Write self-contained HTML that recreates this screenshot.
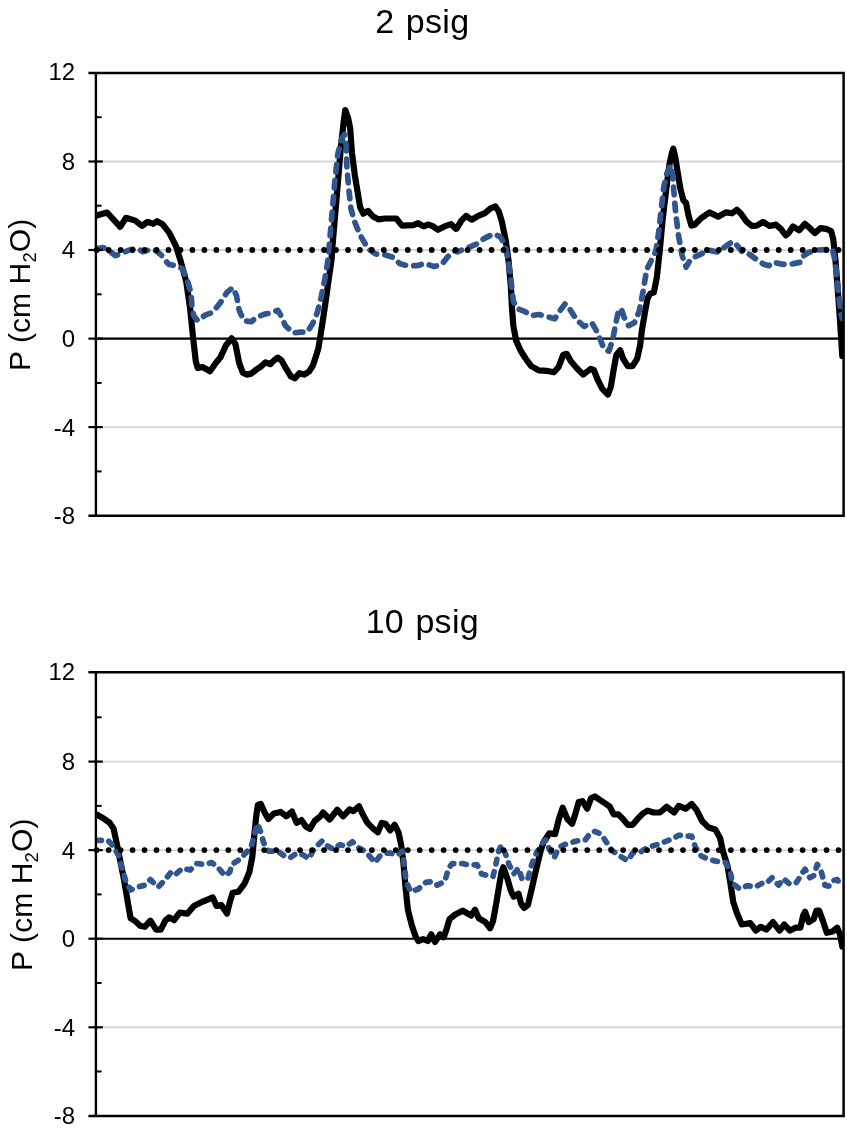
<!DOCTYPE html>
<html><head><meta charset="utf-8"><title>Pressure charts</title>
<style>
html,body{margin:0;padding:0;background:#fff;}
svg{display:block;font-family:"Liberation Sans",sans-serif;fill:#000;}
</style></head><body>
<svg width="847" height="1134" viewBox="0 0 847 1134">
<rect x="0" y="0" width="847" height="1134" fill="#fff"/>
<g>
<text x="422.3" y="33.0" font-size="34" letter-spacing="0.3" word-spacing="1.6" text-anchor="middle">2 psig</text>
<line x1="95.9" y1="161.5" x2="843.6" y2="161.5" stroke="#d6d6d6" stroke-width="1.9"/>
<line x1="95.9" y1="250.0" x2="843.6" y2="250.0" stroke="#d6d6d6" stroke-width="1.9"/>
<line x1="95.9" y1="427.1" x2="843.6" y2="427.1" stroke="#d6d6d6" stroke-width="1.9"/>
<line x1="95.9" y1="338.6" x2="843.6" y2="338.6" stroke="#000" stroke-width="2.1"/>
<clipPath id="clip72"><rect x="95.9" y="72.9" width="747.7" height="442.8"/></clipPath>
<g clip-path="url(#clip72)">
<polyline points="96.6,215.5 107.0,212.5 112.7,218.7 120.2,226.8 125.9,217.8 135.3,220.6 141.9,225.9 147.6,221.9 153.3,223.8 157.1,221.2 162.7,224.4 169.3,232.9 176.0,246.1 180.7,261.2 186.3,282.0 190.1,308.5 193.0,336.8 195.8,361.3 197.7,368.0 202.4,367.0 210.0,371.2 215.6,363.2 220.3,357.6 226.0,345.3 231.7,338.3 235.5,344.3 239.2,363.2 242.8,372.7 246.6,374.6 251.3,373.6 256.1,369.8 260.8,366.6 265.5,362.3 270.2,364.2 274.0,360.4 277.8,357.6 281.6,360.4 286.3,368.9 291.0,376.5 294.8,378.3 299.5,373.1 304.2,374.6 308.9,371.7 312.7,366.1 315.6,357.6 318.4,348.1 320.3,336.8 324.1,312.2 327.8,285.8 331.6,259.3 332.1,250.6 336.8,195.8 340.6,150.4 343.4,124.0 345.3,110.0 348.2,118.3 350.1,127.8 351.9,152.3 354.8,175.0 357.6,192.0 360.1,207.1 363.3,213.7 368.0,210.9 372.7,216.2 378.4,219.4 385.0,218.5 396.3,218.5 399.2,222.2 402.0,225.6 413.3,225.1 418.1,223.2 423.7,226.4 428.5,224.5 433.2,226.4 437.9,229.8 444.5,226.4 451.1,224.1 455.8,228.8 456.6,228.7 461.3,220.6 466.1,215.9 471.7,219.7 478.3,215.9 484.9,213.1 490.6,208.3 495.3,206.4 498.7,211.2 501.9,221.6 505.7,240.4 508.6,261.2 510.8,285.8 512.0,308.5 513.3,325.5 516.1,340.6 520.8,351.0 525.6,358.5 531.2,366.1 538.8,370.4 546.3,370.8 553.9,372.3 558.6,367.0 563.3,354.7 566.7,353.8 570.9,361.3 576.6,368.0 583.2,374.6 590.7,368.9 593.8,370.0 597.6,379.5 602.3,388.9 607.9,394.6 610.8,387.0 613.6,370.0 616.4,354.9 620.2,350.2 623.1,358.7 627.8,366.2 632.5,366.2 637.2,358.7 640.1,345.5 641.9,330.3 644.8,313.3 647.6,298.2 650.4,293.5 653.8,292.6 656.8,277.6 659.7,251.1 662.5,220.9 666.3,188.8 669.5,164.2 671.9,152.9 673.3,148.7 675.2,156.7 677.6,171.8 680.4,188.8 683.3,200.1 686.1,203.0 688.4,215.2 691.4,225.6 694.6,224.7 701.2,218.1 709.7,212.4 718.2,216.7 725.8,212.4 732.0,213.3 736.9,209.8 741.2,214.0 746.1,221.1 751.8,226.0 756.8,225.6 763.1,221.8 769.5,226.0 775.9,224.6 780.8,228.9 785.8,235.3 788.6,233.1 792.9,226.5 799.3,230.3 804.9,223.9 809.9,228.2 814.8,233.1 820.5,228.2 826.2,228.9 831.1,231.0 833.3,239.5 835.4,259.3 837.5,286.3 839.6,314.6 841.0,335.8 842.3,356.0" fill="none" stroke="#000" stroke-width="6.2" stroke-linejoin="round" stroke-linecap="round"/>
<polyline points="96.6,248.9 103.2,247.6 108.9,250.8 115.5,255.6 123.1,252.7 130.6,249.5 138.2,248.9 142.9,251.8 150.4,249.5 156.1,250.8 161.8,255.6 168.4,264.1 176.9,266.0 182.6,268.8 187.3,280.1 191.1,293.3 192.0,308.5 193.9,316.0 197.7,320.7 205.2,315.1 212.8,312.2 220.3,302.8 227.0,292.4 232.6,287.7 236.4,295.2 239.2,310.3 243.8,320.7 251.3,321.7 257.0,317.0 264.6,314.1 270.2,313.2 277.8,310.3 280.6,315.1 285.3,325.5 292.9,333.0 300.4,332.1 307.1,332.1 312.7,323.6 317.4,312.2 321.2,297.1 325.0,278.2 327.8,261.2 329.3,244.9 332.1,212.8 334.9,180.7 337.8,154.2 341.6,139.1 344.4,134.4 346.3,146.7 346.8,165.6 348.7,188.2 351.0,209.0 354.8,222.2 360.4,235.5 368.0,248.7 375.6,254.0 383.1,254.3 392.6,257.2 400.1,263.8 407.7,265.7 417.1,265.7 424.7,263.4 434.1,266.6 441.7,264.7 447.3,257.2 454.9,250.6 457.6,251.8 467.0,248.0 476.4,244.2 484.0,238.6 493.4,233.8 500.1,236.7 504.8,244.2 507.6,257.4 510.4,274.5 512.0,289.6 513.3,300.9 517.1,308.5 524.6,311.3 531.2,315.6 538.8,314.5 546.3,316.4 554.8,318.8 559.6,311.3 565.2,303.7 570.0,309.4 576.6,319.8 584.1,326.4 591.7,322.6 595.7,329.4 600.4,339.8 604.2,349.2 608.9,351.1 612.7,339.8 615.5,324.7 618.3,311.5 621.2,308.6 624.0,317.1 628.7,325.6 634.4,322.8 639.1,311.5 642.9,292.6 645.7,275.6 647.4,268.1 651.2,260.6 655.9,251.1 658.7,232.2 661.2,209.6 663.8,186.9 666.8,173.7 670.6,165.2 672.9,175.6 673.8,190.7 675.7,213.3 678.6,236.0 682.0,254.9 686.1,267.2 690.8,258.7 699.3,254.9 708.8,250.2 718.2,252.1 726.7,245.5 732.7,241.6 737.6,245.9 742.6,252.3 749.7,254.4 755.3,258.6 763.8,264.3 768.8,265.7 773.0,262.2 780.8,263.9 787.9,265.0 793.6,263.6 800.7,262.2 802.8,256.5 807.8,253.0 814.8,250.1 826.2,249.7 832.5,249.4 834.7,259.3 836.8,276.3 838.9,297.6 841.0,314.6 842.5,318.8" fill="none" stroke="#30558f" stroke-width="5.7" stroke-linejoin="round" stroke-linecap="round" stroke-dasharray="7.7 8.3"/>
</g>
<line x1="96.7" y1="250.0" x2="841" y2="250.0" stroke="#000" stroke-width="5.8" stroke-linecap="round" stroke-dasharray="0 11.965"/>
<path d="M88.4 72.9 H843.6 V515.7 H88.4" fill="none" stroke="#000" stroke-width="2.5" stroke-linejoin="miter"/>
<line x1="95.9" y1="72.9" x2="95.9" y2="515.7" stroke="#000" stroke-width="2.4"/>
<line x1="88.4" y1="161.5" x2="102.8" y2="161.5" stroke="#000" stroke-width="2.2"/>
<line x1="88.4" y1="250.0" x2="102.8" y2="250.0" stroke="#000" stroke-width="2.2"/>
<line x1="88.4" y1="338.6" x2="102.8" y2="338.6" stroke="#000" stroke-width="2.2"/>
<line x1="88.4" y1="427.1" x2="102.8" y2="427.1" stroke="#000" stroke-width="2.2"/>
<line x1="95.9" y1="117.2" x2="101.6" y2="117.2" stroke="#000" stroke-width="2"/>
<line x1="95.9" y1="205.7" x2="101.6" y2="205.7" stroke="#000" stroke-width="2"/>
<line x1="95.9" y1="294.3" x2="101.6" y2="294.3" stroke="#000" stroke-width="2"/>
<line x1="95.9" y1="382.9" x2="101.6" y2="382.9" stroke="#000" stroke-width="2"/>
<line x1="95.9" y1="471.4" x2="101.6" y2="471.4" stroke="#000" stroke-width="2"/>
<text x="75.2" y="79.7" font-size="24" text-anchor="end">12</text>
<text x="75.2" y="169.9" font-size="24" text-anchor="end">8</text>
<text x="75.2" y="258.4" font-size="24" text-anchor="end">4</text>
<text x="75.2" y="347.0" font-size="24" text-anchor="end">0</text>
<text x="75.2" y="435.5" font-size="24" text-anchor="end">-4</text>
<text x="75.2" y="524.1" font-size="24" text-anchor="end">-8</text>
<text transform="translate(30.1 294.9) rotate(-90)" font-size="30" letter-spacing="0.1" text-anchor="middle">P (cm H<tspan font-size="18.5" dy="5.8">2</tspan><tspan dy="-5.8">O)</tspan></text>
</g>
<g>
<text x="422.3" y="633.0" font-size="34" letter-spacing="0.3" word-spacing="1.6" text-anchor="middle">10 psig</text>
<line x1="95.9" y1="761.6" x2="843.6" y2="761.6" stroke="#d6d6d6" stroke-width="1.9"/>
<line x1="95.9" y1="850.1" x2="843.6" y2="850.1" stroke="#d6d6d6" stroke-width="1.9"/>
<line x1="95.9" y1="1027.3" x2="843.6" y2="1027.3" stroke="#d6d6d6" stroke-width="1.9"/>
<line x1="95.9" y1="938.7" x2="843.6" y2="938.7" stroke="#000" stroke-width="2.1"/>
<clipPath id="clip672"><rect x="95.9" y="672.2" width="747.7" height="443.8"/></clipPath>
<g clip-path="url(#clip672)">
<polyline points="96.6,814.4 103.2,818.2 109.8,822.9 113.6,828.6 116.4,841.8 120.2,860.7 124.0,879.6 127.8,902.2 130.6,918.3 135.3,921.1 140.1,925.8 144.8,926.8 150.4,920.7 156.1,929.6 160.8,929.6 165.6,920.2 169.3,917.3 174.1,920.2 179.7,912.6 187.3,913.6 193.9,906.0 203.3,901.3 212.8,897.5 216.6,906.0 221.3,905.1 227.0,913.6 229.8,902.2 232.6,892.8 238.3,891.8 244.7,883.3 249.4,872.0 252.3,856.9 254.2,836.1 256.1,817.2 257.9,804.9 260.8,804.0 264.6,812.5 268.3,819.1 274.0,813.4 280.6,811.9 286.3,816.3 291.9,811.6 296.7,822.9 301.4,820.1 306.1,826.7 309.9,828.9 314.6,821.0 320.3,816.3 323.1,812.5 329.7,819.5 337.3,809.7 343.0,816.3 349.6,809.3 353.3,811.2 359.0,806.3 362.8,814.4 367.5,822.9 373.2,828.6 377.9,832.3 381.7,822.9 385.5,823.8 390.2,830.4 394.7,824.8 398.5,832.3 401.3,845.6 403.6,864.5 405.5,887.1 407.9,909.8 411.7,924.9 415.5,936.2 418.3,941.0 423.1,939.1 427.8,941.0 431.2,934.3 435.0,941.9 440.1,934.3 443.8,937.2 446.7,928.7 449.5,919.2 455.2,914.5 462.7,910.7 471.2,915.5 475.0,909.8 478.8,918.3 485.4,922.1 490.1,928.3 493.0,921.1 495.8,906.0 498.6,889.0 501.5,872.0 503.3,867.3 507.1,877.7 510.9,890.9 513.7,896.6 518.5,893.7 521.3,904.1 524.1,907.9 527.9,905.1 531.7,889.0 536.4,868.2 541.1,849.3 543.8,841.8 549.4,833.3 555.1,834.2 558.9,819.1 562.7,807.8 567.4,819.1 572.1,823.8 574.9,815.3 578.7,802.1 582.5,801.2 587.2,808.7 591.0,798.3 594.8,796.4 600.4,800.2 606.1,804.0 609.9,806.8 613.7,814.4 618.4,814.4 623.1,819.1 627.8,824.8 632.6,824.8 638.2,818.2 643.0,813.4 647.7,810.6 653.3,812.5 660.0,812.5 666.6,806.8 674.1,812.5 678.8,805.9 685.5,808.7 691.7,804.0 696.4,809.7 702.1,821.0 708.7,827.6 715.3,829.5 720.1,838.0 722.9,851.2 727.6,866.3 730.4,883.3 733.3,902.2 737.1,913.6 741.8,924.5 750.3,923.0 755.9,930.6 760.7,926.8 766.3,929.6 773.0,922.1 779.6,930.6 784.3,924.5 790.0,930.6 795.6,927.7 800.3,927.7 803.2,915.5 805.1,911.7 808.8,922.1 813.6,919.2 816.4,910.7 819.2,910.7 823.0,921.1 826.8,932.8 832.5,931.5 837.2,927.7 840.0,934.3 842.3,946.6" fill="none" stroke="#000" stroke-width="6.2" stroke-linejoin="round" stroke-linecap="round"/>
<polyline points="96.6,840.3 107.9,840.3 112.7,845.6 118.3,855.0 122.1,868.2 125.9,881.5 130.6,890.0 137.2,887.1 144.8,885.2 150.4,879.6 158.0,887.1 164.6,880.5 171.2,872.0 175.0,874.8 182.6,868.2 190.1,870.1 196.7,863.5 205.2,864.5 211.8,862.6 218.5,868.2 225.1,875.8 229.8,872.0 231.7,864.5 239.2,859.7 245.7,853.1 251.3,846.5 255.1,832.3 257.4,823.8 260.8,832.3 263.6,842.7 268.3,851.2 277.8,851.2 284.4,856.0 290.1,857.8 296.7,853.1 303.3,855.0 308.9,858.8 312.7,851.2 317.4,845.6 322.2,840.8 326.9,845.6 333.5,849.3 340.1,844.6 345.8,846.5 352.4,841.8 358.1,847.4 364.7,851.2 370.3,856.9 375.1,862.6 379.8,856.0 386.4,853.1 390.0,853.1 397.6,855.0 402.3,851.2 404.2,864.5 406.1,881.5 410.8,891.8 418.3,889.0 425.9,882.4 432.5,881.5 437.2,885.2 444.8,881.5 448.6,868.2 452.3,863.5 462.7,863.5 470.3,865.4 476.9,864.5 481.6,873.9 488.2,875.8 493.0,876.7 495.8,864.5 498.6,851.2 501.1,845.6 505.2,853.1 509.0,864.5 513.7,873.9 518.5,868.2 522.2,879.6 527.9,878.6 531.7,864.5 536.4,853.1 542.8,842.7 545.7,839.9 549.4,849.3 554.2,857.8 558.9,847.4 564.6,844.6 570.2,842.7 577.8,840.8 585.3,839.9 590.1,833.3 594.8,831.4 601.4,834.2 606.1,841.8 611.8,850.3 621.2,856.9 627.8,860.7 632.6,853.1 640.1,852.2 647.7,847.4 657.1,844.6 664.7,841.8 672.2,838.9 678.8,835.2 685.5,836.1 691.7,836.1 695.5,847.4 701.2,856.0 709.7,859.7 718.2,861.6 725.7,862.6 730.4,872.0 732.3,883.3 739.9,889.0 747.4,885.6 755.0,887.1 762.6,883.0 766.3,883.3 772.0,877.7 778.6,885.2 783.3,878.6 790.0,884.3 796.6,882.4 802.2,873.0 805.1,869.2 809.8,877.7 813.6,875.8 817.3,864.5 821.1,871.1 824.9,885.2 828.7,886.2 833.4,880.5 837.2,879.6 841.0,885.2" fill="none" stroke="#30558f" stroke-width="5.7" stroke-linejoin="round" stroke-linecap="round" stroke-dasharray="4.8 7.9"/>
</g>
<line x1="96.7" y1="850.1" x2="841" y2="850.1" stroke="#000" stroke-width="5.8" stroke-linecap="round" stroke-dasharray="0 11.965"/>
<path d="M88.4 672.2 H843.6 V1116.0 H88.4" fill="none" stroke="#000" stroke-width="2.5" stroke-linejoin="miter"/>
<line x1="95.9" y1="672.2" x2="95.9" y2="1116.0" stroke="#000" stroke-width="2.4"/>
<line x1="88.4" y1="761.6" x2="102.8" y2="761.6" stroke="#000" stroke-width="2.2"/>
<line x1="88.4" y1="850.1" x2="102.8" y2="850.1" stroke="#000" stroke-width="2.2"/>
<line x1="88.4" y1="938.7" x2="102.8" y2="938.7" stroke="#000" stroke-width="2.2"/>
<line x1="88.4" y1="1027.3" x2="102.8" y2="1027.3" stroke="#000" stroke-width="2.2"/>
<line x1="95.9" y1="717.3" x2="101.6" y2="717.3" stroke="#000" stroke-width="2"/>
<line x1="95.9" y1="805.9" x2="101.6" y2="805.9" stroke="#000" stroke-width="2"/>
<line x1="95.9" y1="894.4" x2="101.6" y2="894.4" stroke="#000" stroke-width="2"/>
<line x1="95.9" y1="983.0" x2="101.6" y2="983.0" stroke="#000" stroke-width="2"/>
<line x1="95.9" y1="1071.5" x2="101.6" y2="1071.5" stroke="#000" stroke-width="2"/>
<text x="75.2" y="679.8" font-size="24" text-anchor="end">12</text>
<text x="75.2" y="770.0" font-size="24" text-anchor="end">8</text>
<text x="75.2" y="858.5" font-size="24" text-anchor="end">4</text>
<text x="75.2" y="947.1" font-size="24" text-anchor="end">0</text>
<text x="75.2" y="1035.7" font-size="24" text-anchor="end">-4</text>
<text x="75.2" y="1124.2" font-size="24" text-anchor="end">-8</text>
<text transform="translate(32.4 894.7) rotate(-90)" font-size="30" letter-spacing="0.1" text-anchor="middle">P (cm H<tspan font-size="18.5" dy="5.8">2</tspan><tspan dy="-5.8">O)</tspan></text>
</g>
</svg>
</body></html>
